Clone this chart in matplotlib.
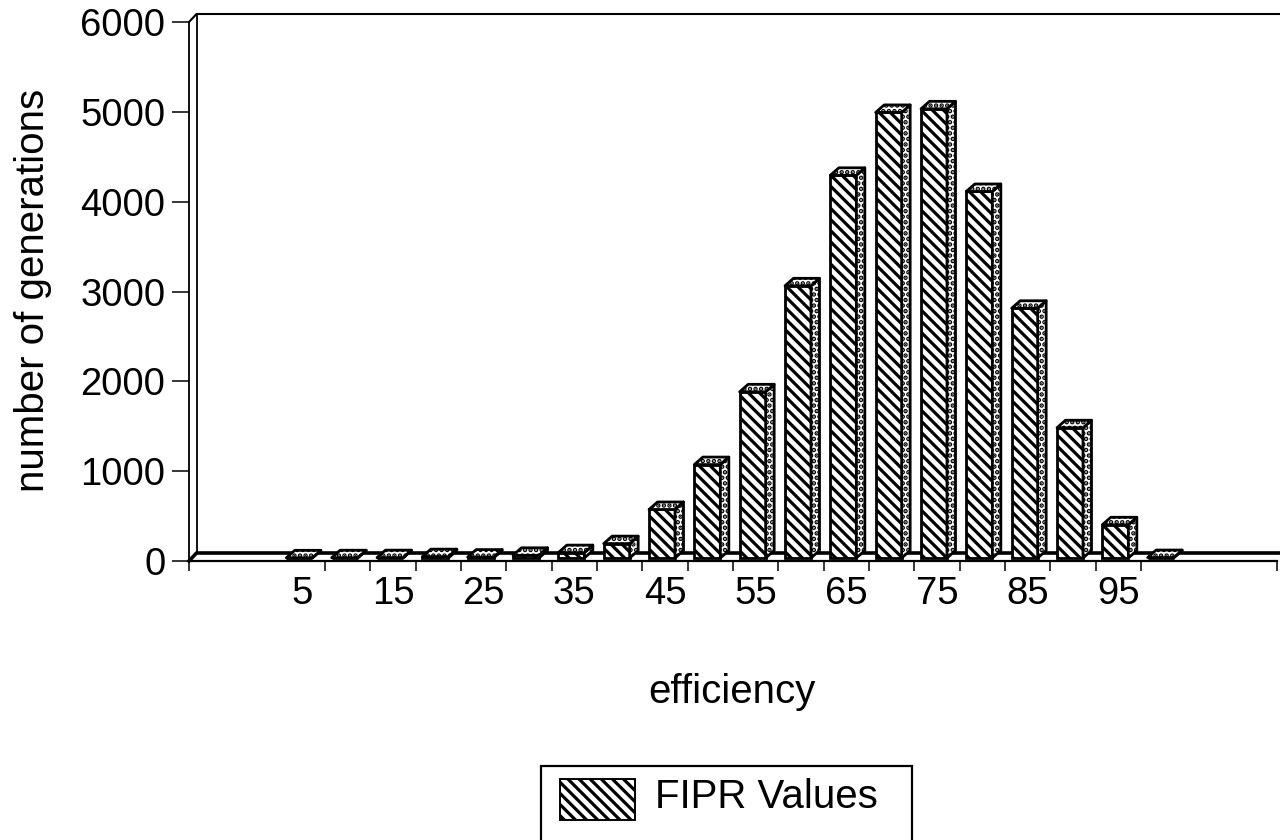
"""
Recreates the FIPR efficiency histogram with its fake-3D bars.
"""

import matplotlib
matplotlib.use("Agg")
import matplotlib.pyplot as plt
from matplotlib.patches import Polygon, Rectangle

plt.rcParams["font.family"] = ["Liberation Sans", "DejaVu Sans"]
plt.rcParams["hatch.linewidth"] = 2.3
plt.rcParams["hatch.color"] = "black"

efficiency = [5, 10, 15, 20, 25, 30, 35, 40, 45, 50, 55, 60, 65, 70, 75, 80, 85, 90, 95, 100]
generations = [2, 3, 4, 15, 10, 30, 60, 160, 540, 1040, 1850, 3030, 4260, 4960, 5000, 4080, 2780, 1450, 370, 5]
tick_labels = ["5", "15", "25", "35", "45", "55", "65", "75", "85", "95"]
y_ticks = [0, 1000, 2000, 3000, 4000, 5000, 6000]

W, H = 1280, 840
X0, X1, Y0, Y1 = 189, 1277, 561, 22  # pixel box of the front plane
N_CATS = 24
TICK_FONT = 27.5
LABEL_FONT = 29

px_x = (X1 - X0) / N_CATS
px_y = (Y0 - Y1) / 6000
depth_x = 7.5 / px_x
depth_y = 8 / px_y
bar_w = 26 / px_x
bar_shift = -3 / px_x
side_x = 8.5 / px_x
side_y = 7.5 / px_y
lift = 3 / px_y


def cat_pos(value):
    return 2.5 + (value - 5) / 5


fig = plt.figure(figsize=(W / 100, H / 100), dpi=100)
ax = fig.add_axes([X0 / W, 1 - Y0 / H, (X1 - X0) / W, (Y0 - Y1) / H])
ax.set_xlim(0, N_CATS)
ax.set_ylim(0, 6000)
ax.patch.set_visible(False)
for s in ax.spines.values():
    s.set_visible(False)
ax.spines["left"].set_visible(True)
ax.spines["left"].set_linewidth(1.3)
ax.spines["bottom"].set_visible(True)
ax.spines["bottom"].set_linewidth(1.6)

# back wall and floor
ax.plot([0, depth_x, N_CATS + depth_x], [6000, 6000 + depth_y, 6000 + depth_y],
        color="black", lw=1.5, clip_on=False, zorder=1)
ax.plot([depth_x, depth_x], [depth_y, 6000 + depth_y], color="black", lw=1.3, clip_on=False, zorder=1)
ax.plot([0, depth_x, N_CATS + depth_x], [0, depth_y, depth_y], color="black", lw=2.6, clip_on=False, zorder=1)

# bars: front face, then the side and top faces
xs = [cat_pos(v) + bar_shift for v in efficiency]
ax.bar(xs, generations, width=bar_w, bottom=lift, facecolor="white", edgecolor="black",
       hatch="\\\\\\", linewidth=2.0, zorder=3)
for x, g in zip(xs, generations):
    left, right = x - bar_w / 2, x + bar_w / 2
    top = g + lift
    side = Polygon([(right, lift), (right + side_x, lift + side_y), (right + side_x, top + side_y), (right, top)],
                   facecolor="white", edgecolor="black", hatch="...", linewidth=2.0, zorder=3,
                   clip_on=False, joinstyle="round")
    lid = Polygon([(left, top), (left + side_x, top + side_y), (right + side_x, top + side_y), (right, top)],
                  facecolor="white", edgecolor="black", hatch="...", linewidth=2.0, zorder=3,
                  clip_on=False, joinstyle="round")
    ax.add_patch(side)
    ax.add_patch(lid)

# ticks: labels sit between the tick marks, some marks are missing in the original
ax.set_xticks([0] + list(range(3, 22)) + [N_CATS])
ax.set_xticklabels([])
ax.tick_params(axis="x", which="major", length=7.5, width=1.1, direction="out")
ax.set_xticks([cat_pos(int(t)) for t in tick_labels], minor=True)
ax.set_xticklabels(tick_labels, minor=True, fontsize=TICK_FONT)
ax.tick_params(axis="x", which="minor", length=0, pad=11)
ax.set_yticks(y_ticks)
ax.set_yticklabels([str(v) for v in y_ticks], fontsize=TICK_FONT)
ax.tick_params(axis="y", length=12, width=1.1, pad=5)

fig.text(732 / W, 1 - 692 / H, "efficiency", fontsize=LABEL_FONT, ha="center", va="center")
fig.text(33 / W, 1 - 290 / H, "number of generations", fontsize=LABEL_FONT, rotation=90, ha="center", va="center")

# legend box runs off the bottom of the page
fig.add_artist(Rectangle((541 / W, 1 - 860 / H), 371 / W, 94 / H, transform=fig.transFigure,
                         facecolor="white", edgecolor="black", linewidth=1.6))
fig.add_artist(Rectangle((560 / W, 1 - 820 / H), 75 / W, 41 / H, transform=fig.transFigure,
                         facecolor="white", edgecolor="black", hatch="\\\\\\", linewidth=1.4))
fig.text(655 / W, 1 - 797 / H, "FIPR Values", fontsize=LABEL_FONT, ha="left", va="center")

fig.savefig("out.png", dpi=100)
